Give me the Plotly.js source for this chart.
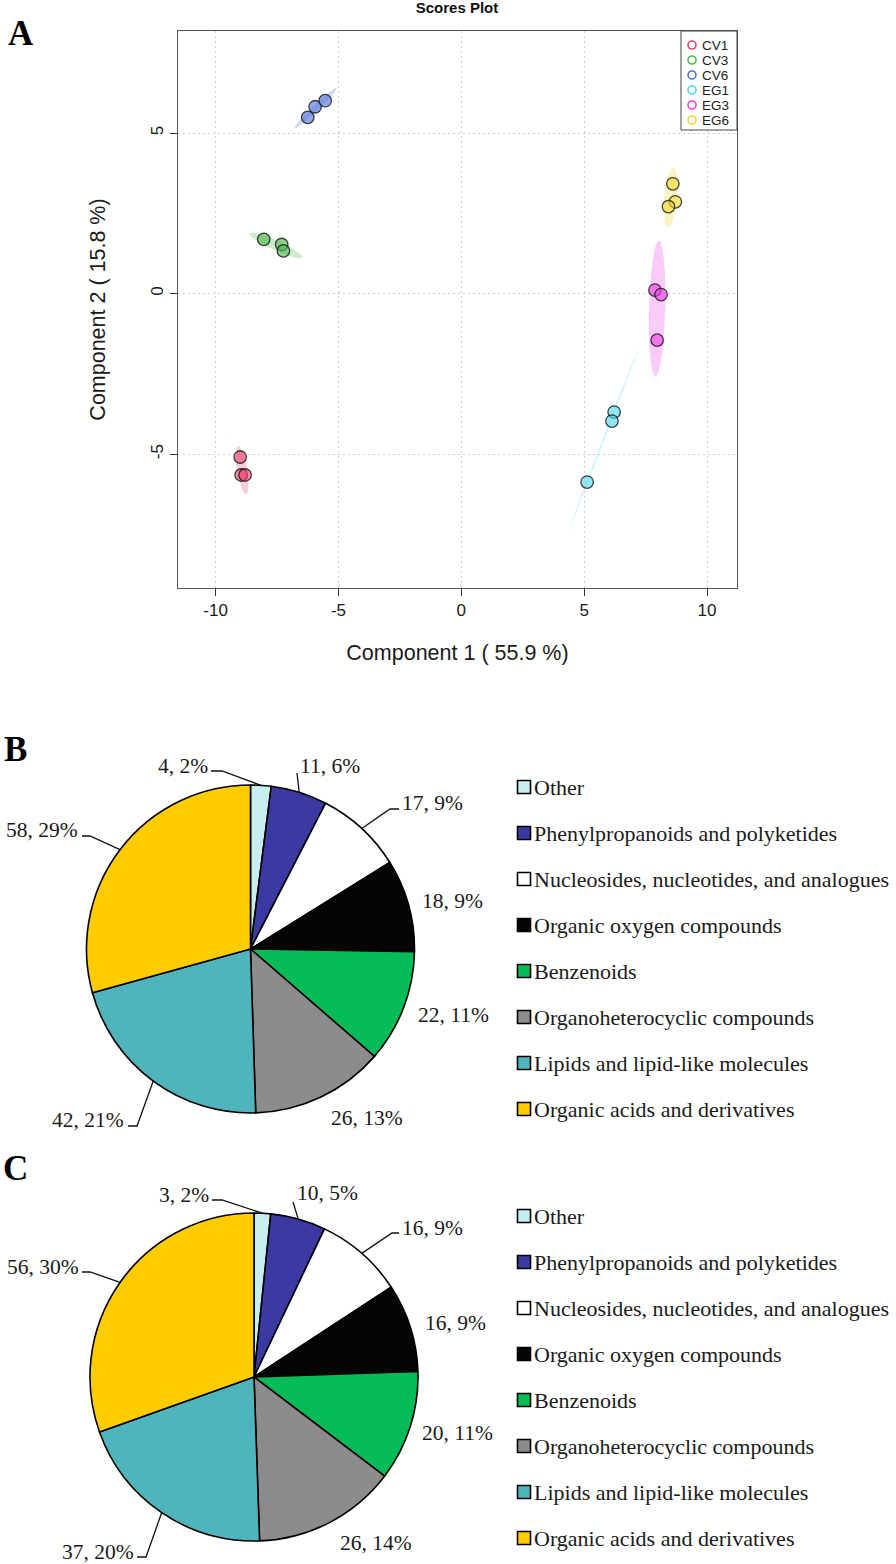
<!DOCTYPE html>
<html><head><meta charset="utf-8">
<script src="https://cdn.plot.ly/plotly-3.0.1.min.js"></script>
<style>html,body{margin:0;padding:0;background:#fff}</style>
</head><body><div id="chart" style="width:896px;height:1564px"></div>
<script>
// ---------------- Panel A data : PLS-DA scores ----------------
const groupNames = ['CV1', 'CV3', 'CV6', 'EG1', 'EG3', 'EG6'];
const groupColors = ['#E8476F', '#4DB84D', '#5272DB', '#52D6EE', '#EC42E6', '#F2D531'];
const comp1Scores = [
  [-9.00, -8.96, -8.80],
  [-8.04, -7.31, -7.24],
  [-6.25, -5.95, -5.54],
  [6.22, 6.13, 5.12],
  [7.88, 8.13, 7.97],
  [8.61, 8.71, 8.43]
];
const comp2Scores = [
  [-5.09, -5.65, -5.65],
  [1.69, 1.53, 1.33],
  [5.49, 5.82, 6.01],
  [-3.69, -3.97, -5.87],
  [0.11, -0.03, -1.45],
  [3.42, 2.86, 2.71]
];
// confidence ellipses: centre, semi-axes (data units), orientation (deg)
const ellipseCentre1 = [-8.92, -7.54, -5.93, 5.80, 7.97, 8.52];
const ellipseCentre2 = [-5.50, 1.50, 5.78, -4.52, -0.47, 2.99];
const ellipseMajor = [0.77, 1.14, 1.06, 3.23, 2.12, 0.93];
const ellipseMinor = [0.20, 0.16, 0.11, 0.04, 0.33, 0.27];
const ellipseAngle = [103, 161, 36, 63.4, 88, 83.5];
const xTickVals = [-10, -5, 0, 5, 10];
const xTickText = ['-10', '-5', '0', '5', '10'];
const yTickVals = [-5, 0, 5];
const yTickText = ['-5', '0', '5'];

// ---------------- Panels B & C data : compound classes ----------------
const classNames = ['Other', 'Phenylpropanoids and polyketides',
  'Nucleosides, nucleotides, and analogues', 'Organic oxygen compounds',
  'Benzenoids', 'Organoheterocyclic compounds',
  'Lipids and lipid-like molecules', 'Organic acids and derivatives'];
const classColors = ['#C8EEF1', '#3A3AA2', '#FFFFFF', '#050505',
  '#07BC57', '#8C8C8C', '#50B4BD', '#FFCC00'];
const countsB = [4, 11, 17, 18, 22, 26, 42, 58];
const countsC = [3, 10, 16, 16, 20, 26, 37, 56];

// ---------------- layout (pixel positions) ----------------
const W = 896, H = 1564;
const box = {l: 178, r: 737, t: 31, b: 588};
const pieLayouts = [
  {counts: countsB, cx: 250.5, cy: 949, r: 164, legendTop: 787,
   labelPos: [[183, 766], [330, 766], [432, 803], [452, 901], [453, 1015], [367, 1118], [88, 1120], [42, 830]],
   leaders: [[[211, 771], [222, 771]], [[297, 773]], [[399, 809], [390, 809]], null, null, null,
             [[128, 1126], [137, 1126]], [[82, 836], [90, 836]]]},
  {counts: countsC, cx: 254, cy: 1377, r: 164, legendTop: 1216,
   labelPos: [[184, 1195], [327, 1193], [432, 1228], [455, 1323], [457, 1433], [376, 1543], [98, 1552], [43, 1267]],
   leaders: [[[212, 1200], [222, 1200]], [[293, 1202]], [[399, 1233], [392, 1233]], null, null, null,
             [[137, 1557], [146, 1557]], [[82, 1272], [90, 1272]]]}
];

function rgba(hex, a) {
  const n = parseInt(hex.slice(1), 16);
  return `rgba(${(n >> 16) & 255},${(n >> 8) & 255},${n & 255},${a})`;
}

const traces = [];
const annotations = [];
const shapes = [];

// ellipses
groupNames.forEach((g, i) => {
  const ex = [], ey = [];
  const th = ellipseAngle[i] * Math.PI / 180;
  for (let k = 0; k <= 90; k++) {
    const t = 2 * Math.PI * k / 90;
    const u = ellipseMajor[i] * Math.cos(t), v = ellipseMinor[i] * Math.sin(t);
    ex.push(ellipseCentre1[i] + u * Math.cos(th) - v * Math.sin(th));
    ey.push(ellipseCentre2[i] + u * Math.sin(th) + v * Math.cos(th));
  }
  traces.push({type: 'scatter', mode: 'lines', x: ex, y: ey, fill: 'toself',
    fillcolor: rgba(groupColors[i], 0.28), line: {width: 0, color: rgba(groupColors[i], 0.28)},
    hoverinfo: 'skip', showlegend: false, xaxis: 'x', yaxis: 'y'});
});
// score points
groupNames.forEach((g, i) => {
  traces.push({type: 'scatter', mode: 'markers', name: g, x: comp1Scores[i], y: comp2Scores[i],
    marker: {size: 12.5, color: rgba(groupColors[i], 0.62), line: {color: 'rgba(20,20,20,0.8)', width: 1.3}},
    showlegend: false, xaxis: 'x', yaxis: 'y'});
});

// scatter legend (page-pixel overlay axes x2/y2)
shapes.push({type: 'rect', xref: 'x2', yref: 'y2', x0: 681, x1: 737, y0: 31, y1: 130,
  line: {color: '#444', width: 1}, fillcolor: 'rgba(255,255,255,1)', layer: 'below'});
traces.push({type: 'scatter', mode: 'markers', xaxis: 'x2', yaxis: 'y2',
  x: groupNames.map(() => 692), y: groupNames.map((g, k) => 45 + 15 * k),
  marker: {symbol: 'circle-open', size: 8, color: groupColors, line: {width: 1.6}},
  hoverinfo: 'skip', showlegend: false});
groupNames.forEach((g, k) => annotations.push({xref: 'x2', yref: 'y2', x: 700, y: 45 + 15 * k,
  text: g, showarrow: false, xanchor: 'left', yanchor: 'middle',
  font: {family: 'Liberation Sans, Arial, sans-serif', size: 13.5, color: '#222'}}));

// pies
pieLayouts.forEach((p, pi) => {
  const total = p.counts.reduce((a, b) => a + b, 0);
  traces.push({type: 'pie', values: p.counts, labels: classNames, sort: false,
    direction: 'clockwise', rotation: 0, textinfo: 'none', textposition: 'none',
    hoverinfo: 'label+value+percent', showlegend: false,
    marker: {colors: classColors, line: {color: '#000', width: 1.6}},
    domain: {x: [(p.cx - p.r) / W, (p.cx + p.r) / W], y: [1 - (p.cy + p.r) / H, 1 - (p.cy - p.r) / H]}});
  // labels + leader lines
  let cum = 0;
  const lx = [], ly = [];
  p.counts.forEach((v, k) => {
    const mid = (cum + v / 2) / total * 2 * Math.PI;
    cum += v;
    const ex = p.cx + p.r * Math.sin(mid), ey = p.cy - p.r * Math.cos(mid);
    annotations.push({xref: 'x2', yref: 'y2', x: p.labelPos[k][0], y: p.labelPos[k][1],
      text: `${v}, ${Math.round(v / total * 100)}%`, showarrow: false, xanchor: 'center', yanchor: 'middle',
      font: {family: 'Liberation Serif, Times New Roman, serif', size: 21.5, color: '#1a1a1a'}});
    if (p.leaders[k]) {
      p.leaders[k].forEach(pt => { lx.push(pt[0]); ly.push(pt[1]); });
      lx.push(ex); ly.push(ey); lx.push(null); ly.push(null);
    }
  });
  traces.push({type: 'scatter', mode: 'lines', x: lx, y: ly, xaxis: 'x2', yaxis: 'y2',
    line: {color: '#111', width: 1.3}, hoverinfo: 'skip', showlegend: false});
  // legend
  traces.push({type: 'scatter', mode: 'markers', xaxis: 'x2', yaxis: 'y2',
    x: classNames.map(() => 524), y: classNames.map((c, k) => p.legendTop + 46 * k),
    marker: {symbol: 'square', size: 13, color: classColors, line: {color: '#000', width: 1.6}},
    hoverinfo: 'skip', showlegend: false});
  classNames.forEach((c, k) => annotations.push({xref: 'x2', yref: 'y2', x: 532, y: p.legendTop + 46 * k,
    text: c, showarrow: false, xanchor: 'left', yanchor: 'middle',
    font: {family: 'Liberation Serif, Times New Roman, serif', size: 22, color: '#1a1a1a'}}));
});

// panel letters
[['A', 21, 33], ['B', 15, 749], ['C', 15, 1168]].forEach(l => annotations.push({
  xref: 'x2', yref: 'y2', x: l[1], y: l[2], text: '<b>' + l[0] + '</b>', showarrow: false,
  xanchor: 'center', yanchor: 'middle',
  font: {family: 'Liberation Serif, Times New Roman, serif', size: 35, color: '#000'}}));

const sansFont = 'Liberation Sans, Arial, sans-serif';
const layout = {
  width: W, height: H, margin: {l: 0, r: 0, t: 0, b: 0},
  paper_bgcolor: '#fff', plot_bgcolor: 'rgba(0,0,0,0)', showlegend: false,
  title: {text: '<b>Scores Plot</b>', x: 457 / W, xanchor: 'center', y: 1 - 8 / H, yanchor: 'middle',
    font: {family: sansFont, size: 15, color: '#111'}},
  xaxis: {domain: [box.l / W, box.r / W], range: [-11.53, 11.22], anchor: 'y',
    tickvals: xTickVals, ticktext: xTickText, ticks: 'outside', ticklen: 7, tickcolor: '#333',
    showline: true, mirror: true, linecolor: '#555', linewidth: 1,
    showgrid: true, gridcolor: '#cfcfcf', griddash: '2px,3px', zeroline: false,
    tickfont: {family: sansFont, size: 17, color: '#1a1a1a'},
    title: {text: 'Component 1 ( 55.9 %)', font: {family: sansFont, size: 21.5, color: '#1a1a1a'}, standoff: 25}},
  yaxis: {domain: [1 - box.b / H, 1 - box.t / H], range: [-9.17, 8.18], anchor: 'x',
    tickvals: yTickVals, ticktext: yTickText, tickangle: -90, ticks: 'outside', ticklen: 7, tickcolor: '#333',
    showline: true, mirror: true, linecolor: '#555', linewidth: 1,
    showgrid: true, gridcolor: '#cfcfcf', griddash: '2px,3px', zeroline: false,
    tickfont: {family: sansFont, size: 17, color: '#1a1a1a'},
    title: {text: 'Component 2 ( 15.8 %)', font: {family: sansFont, size: 21.5, color: '#1a1a1a'}, standoff: 36}},
  xaxis2: {domain: [0, 1], range: [0, W], visible: false, anchor: 'y2', fixedrange: true},
  yaxis2: {domain: [0, 1], range: [H, 0], visible: false, anchor: 'x2', fixedrange: true},
  annotations: annotations, shapes: shapes
};
Plotly.newPlot('chart', traces, layout, {staticPlot: true, displayModeBar: false});
</script></body></html>
